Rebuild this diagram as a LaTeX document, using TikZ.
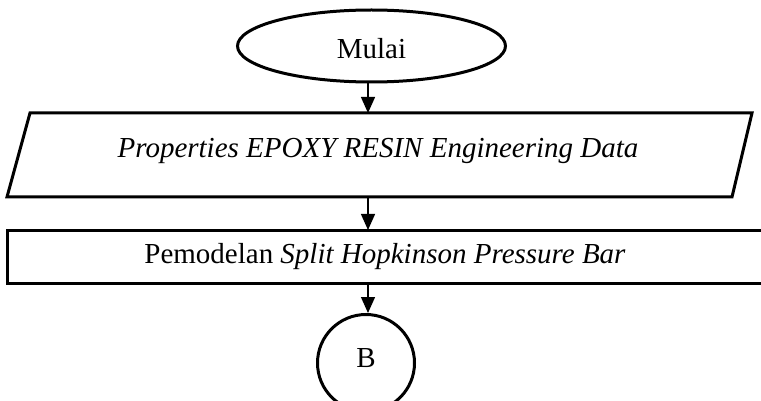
\documentclass[tikz,border=0pt]{standalone}
\usepackage{fontspec}
\setmainfont{Liberation Serif}
\usetikzlibrary{shapes.geometric,arrows.meta}
\begin{document}
\begin{tikzpicture}[x=1pt,y=-1pt,
  shape line/.style={draw=black,line width=3pt},
  flow/.style={draw=black,line width=1.3pt,-{Triangle[length=16pt,width=14pt]}},
  label text/.style={font=\fontsize{29}{34}\selectfont,inner sep=0pt}]
  \useasboundingbox (0,0) rectangle (761,401);

  % start terminal
  \node[ellipse,shape line,minimum width=268pt,minimum height=72pt,label text,text height=26pt] (start) at (371.5,46) {Mulai};

  % input / data parallelogram
  \coordinate (pTL) at (30,113);
  \coordinate (pTR) at (752,113);
  \coordinate (pBR) at (732,197);
  \coordinate (pBL) at (7,197);
  \draw[shape line,line join=miter] (pTL) -- (pTR) -- (pBR) -- (pBL) -- cycle;
  \node[label text] (data) at (378,151) {\itshape Properties EPOXY RESIN Engineering Data};
  \coordinate (dataTop) at (368,113);
  \coordinate (dataBot) at (368,197);

  % process box (runs off the right edge)
  \draw[shape line] (790,230) -- (7,230) -- (7,283) -- (790,283);
  \node[label text] (model) at (385,257) {Pemodelan \textit{Split Hopkinson Pressure Bar}};
  \coordinate (modelTop) at (368,230);
  \coordinate (modelBot) at (368,283);

  % off-page connector
  \node[circle,shape line,minimum size=97pt,label text,text depth=10pt] (conn) at (366,363) {B};

  \draw[flow] (start.south -| dataTop) -- (dataTop);
  \draw[flow] (dataBot) -- (modelTop);
  \draw[flow] (modelBot) -- (conn.north -| modelBot);
\end{tikzpicture}
\end{document}
